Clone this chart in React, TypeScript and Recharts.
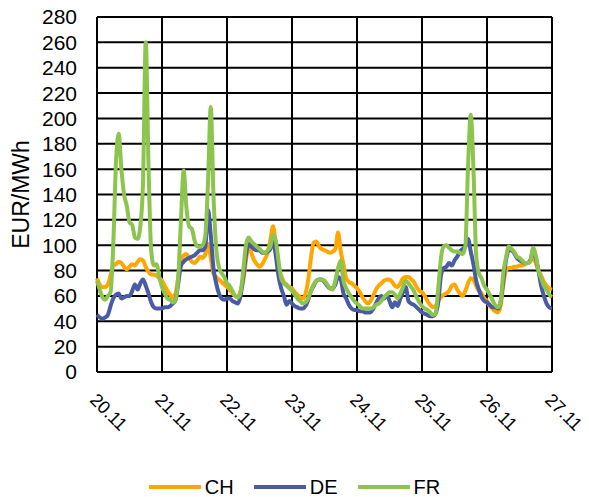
import React from "react";
import { LineChart, Line, XAxis, YAxis, CartesianGrid, Legend } from "recharts";

// hourly prices, 20.11 00:00 .. 27.11 00:00
const ch = [
  74, 69, 67, 67, 69, 76, 84, 85, 87, 86, 83, 81, 83, 85, 84, 87, 89, 88, 83, 79, 77, 77, 76, 74,
  72, 68, 64, 61, 59, 62, 75, 88, 92, 93, 90, 87, 86, 88, 91, 90, 93, 101, 90, 78, 75, 73, 71, 69,
  67, 65, 62, 60, 59, 64, 72, 88, 100, 94, 88, 85, 83, 85, 89, 94, 104, 115, 100, 84, 76, 71, 69, 67,
  66, 63, 61, 59, 58, 62, 73, 90, 102, 103, 99, 97, 96, 95, 94, 95, 97, 110, 95, 85, 74, 71, 70, 68,
  66, 63, 59, 56, 54, 56, 60, 65, 68, 70, 72, 73, 73, 71, 68, 67, 70, 74, 75, 75, 73, 71, 67, 64,
  63, 60, 56, 53, 51, 52, 56, 59, 61, 62, 64, 68, 69, 65, 62, 60, 64, 70, 74, 73, 68, 64, 62, 58,
  56, 52, 50, 48, 47, 52, 68, 80, 82, 82, 83, 83, 84, 84, 85, 86, 88, 91, 86, 80, 76, 71, 68, 66, 65,
];

const de = [
  45, 43, 42, 43, 45, 52, 58, 61, 62, 58, 59, 60, 60, 64, 69, 65, 70, 73, 68, 62, 55, 51, 50, 50,
  50, 51, 51, 52, 54, 57, 70, 84, 87, 89, 90, 91, 92, 94, 96, 96, 99, 128, 108, 82, 70, 62, 58, 57,
  58, 58, 56, 55, 54, 60, 75, 92, 101, 99, 97, 96, 96, 94, 94, 95, 97, 104, 92, 76, 66, 60, 53, 56,
  54, 52, 51, 50, 50, 52, 57, 64, 68, 72, 73, 73, 71, 68, 66, 66, 69, 75, 73, 62, 58, 53, 50, 49,
  49, 48, 48, 47, 47, 47, 50, 54, 58, 60, 58, 61, 56, 51, 55, 52, 58, 63, 67, 56, 54, 53, 51, 49,
  47, 46, 45, 44, 44, 46, 55, 76, 82, 83, 86, 84, 88, 91, 95, 97, 99, 105, 95, 85, 72, 65, 59, 56,
  55, 53, 51, 51, 50, 55, 72, 88, 96, 96, 94, 90, 88, 87, 86, 86, 88, 96, 90, 80, 68, 60, 54, 51, 50,
];

const fr = [
  72, 65, 59, 57, 60, 63, 100, 165, 188, 160, 140, 131, 118, 116, 106, 105, 115, 150, 260, 165, 96, 84, 85, 75,
  67, 62, 58, 57, 55, 57, 75, 120, 159, 130, 115, 113, 104, 99, 99, 100, 108, 150, 209, 140, 98, 83, 78, 75,
  70, 68, 64, 60, 59, 63, 80, 100, 106, 103, 101, 99, 97, 95, 94, 96, 99, 108, 104, 88, 74, 70, 68, 66,
  64, 61, 58, 56, 54, 55, 58, 64, 69, 72, 73, 73, 72, 69, 66, 65, 72, 82, 88, 72, 66, 62, 59, 56,
  54, 52, 50, 50, 50, 50, 51, 53, 54, 56, 59, 61, 63, 63, 61, 58, 62, 67, 72, 70, 67, 64, 59, 55,
  52, 50, 49, 47, 45, 46, 66, 90, 99, 100, 98, 96, 95, 95, 94, 93, 99, 162, 203, 160, 92, 78, 74, 68,
  65, 61, 57, 53, 51, 55, 78, 90, 99, 97, 95, 91, 90, 88, 86, 86, 87, 98, 92, 80, 74, 68, 65, 61, 59,
];

const dayLabels = ["20.11", "21.11", "22.11", "23.11", "24.11", "25.11", "26.11", "27.11"];
const dayTicks = [0, 24, 48, 72, 96, 120, 144, 168];
const yTicks = [0, 20, 40, 60, 80, 100, 120, 140, 160, 180, 200, 220, 240, 260, 280];

const data = ch.map((v, i) => ({ h: i, CH: v, DE: de[i], FR: fr[i] }));

const colors = { CH: "#FFA600", DE: "#4A5BA6", FR: "#8CC44E" };

const DayTick = (props: any) => {
  const { x, y, payload } = props;
  const label = dayLabels[dayTicks.indexOf(payload.value)];
  const tx = x - 8;
  const ty = y + 29;
  return (
    <text x={tx} y={ty} transform={`rotate(45, ${tx}, ${ty})`} textAnchor="start" fontSize={18} fill="#000">
      {label}
    </text>
  );
};

const renderLegend = () => (
  <div style={{ display: "flex", justifyContent: "center", alignItems: "center", height: 20, fontSize: 20, color: "#000" }}>
    {(["CH", "DE", "FR"] as const).map((k) => (
      <div key={k} style={{ display: "flex", alignItems: "center", margin: "0 10px" }}>
        <svg width={52} height={20}>
          <line x1={1} y1={10} x2={51} y2={10} stroke={colors[k]} strokeWidth={4} strokeLinecap="round" />
        </svg>
        <span style={{ marginLeft: 4, lineHeight: "20px" }}>{k}</span>
      </div>
    ))}
  </div>
);

const App = () => {
  return (
    <div style={{ position: "absolute", left: 0, top: 0, width: 589, height: 497, background: "#fff", fontFamily: "'Liberation Sans', Arial, sans-serif" }}>
      <LineChart width={589} height={497} data={data} margin={{ top: 17, right: 37, left: 0, bottom: 0 }}>
        <CartesianGrid stroke="#000" strokeWidth={2} />
        <XAxis
          dataKey="h"
          type="number"
          domain={[0, 168]}
          ticks={dayTicks}
          interval={0}
          height={105}
          axisLine={false}
          tickLine={false}
          tickSize={0}
          tickMargin={0}
          tick={<DayTick />}
        />
        <YAxis
          domain={[0, 280]}
          ticks={yTicks}
          interval={0}
          width={97}
          axisLine={false}
          tickLine={false}
          tickSize={0}
          tickMargin={20}
          tick={{ fontSize: 21, fill: "#000" }}
          label={{ value: "EUR/MWh", angle: -90, position: "insideLeft", offset: 21, style: { textAnchor: "middle", fontSize: 23, fill: "#000" } }}
        />
        <Legend verticalAlign="bottom" height={20} wrapperStyle={{ left: 0, width: 589 }} content={renderLegend} />
        <Line type="monotone" dataKey="CH" stroke={colors.CH} strokeWidth={4} dot={false} isAnimationActive={false} />
        <Line type="monotone" dataKey="DE" stroke={colors.DE} strokeWidth={4} dot={false} isAnimationActive={false} />
        <Line type="monotone" dataKey="FR" stroke={colors.FR} strokeWidth={4} dot={false} isAnimationActive={false} />
      </LineChart>
    </div>
  );
};

export default App;
